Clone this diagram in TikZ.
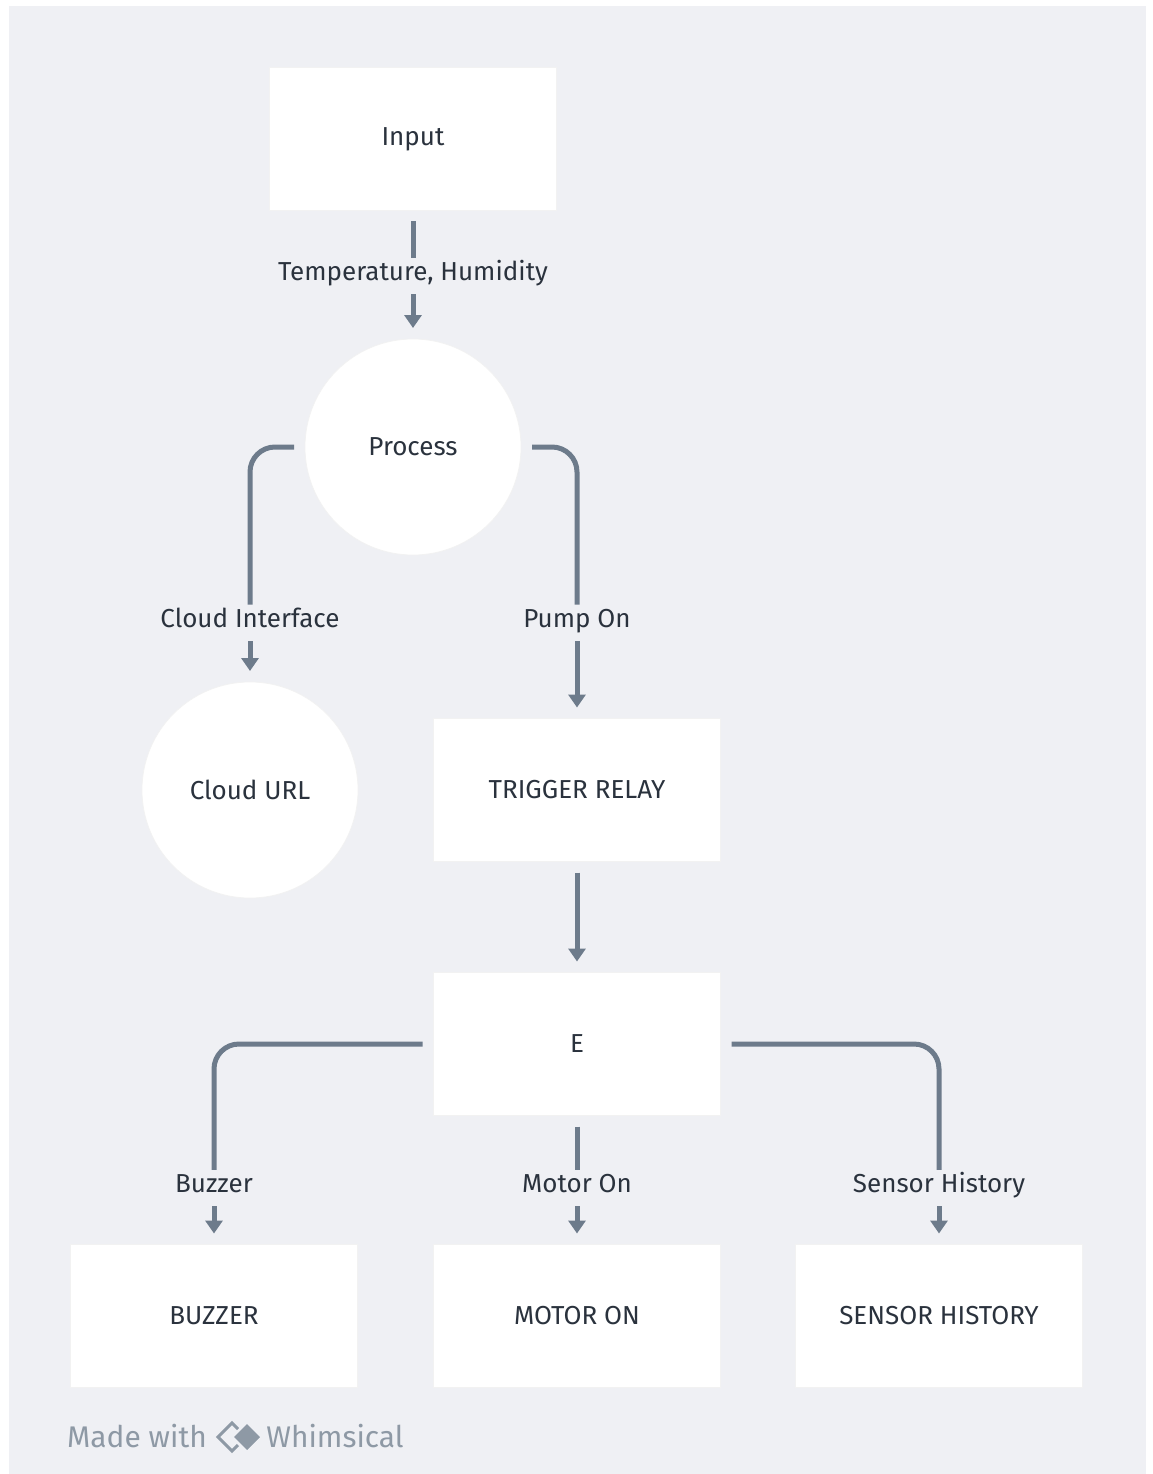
\documentclass[tikz,border=0pt]{standalone}
\usepackage{fontspec}
\setmainfont{Fira Sans}
\usepackage{xcolor}
\usetikzlibrary{arrows.meta}
\definecolor{paper}{HTML}{EFF0F4}
\definecolor{wire}{HTML}{6D7B8B}
\definecolor{ink}{HTML}{2A323D}
\definecolor{brand}{HTML}{8E99A5}

\begin{document}
\begin{tikzpicture}[
            font=\fontsize{14.8}{18}\selectfont,
            box/.style = {rectangle,
                        minimum width = 5.74cm,
                        minimum height = 2.86cm,
                        fill=white, draw=black!5,
                        text=ink, outer sep=0.22cm},
            bubble/.style = {circle,
                        minimum size = 4.32cm,
                        fill=white, draw=black!5,
                        text=ink, outer sep=0.22cm},
            tag/.style = {text=ink, inner sep=0pt, outer sep=0.2cm,
                        text height=0.72em, text depth=0.22em},
            wire/.style = {draw=wire, line width=0.1cm, rounded corners=0.5cm},
            arrowed/.style = {-{Triangle[width=0.34cm,length=0.26cm]}}]
            % Frame
            \useasboundingbox (0,0) rectangle (23.04,-29.48);
            \fill[white] (0,0) rectangle (23.04,-29.48);
            \fill[paper] (0.18,-0.12) rectangle (22.92,-29.48);
            % Nodes
            \node[box] (input) at (8.26,-2.78) {Input};
            \node[bubble] (process) at (8.26,-8.94) {Process};
            \node[bubble] (cloud) at (5.0,-15.8) {Cloud URL};
            \node[box] (relay) at (11.54,-15.8) {TRIGGER RELAY};
            \node[box] (e) at (11.54,-20.88) {E};
            \node[box] (buzzer) at (4.28,-26.32) {BUZZER};
            \node[box] (motor) at (11.54,-26.32) {MOTOR ON};
            \node[box] (history) at (18.78,-26.32) {SENSOR HISTORY};
            % Connector labels
            \node[tag] (tempHum) at (8.26,-5.52) {Temperature, Humidity};
            \node[tag] (cloudIf) at (5.0,-12.46) {Cloud Interface};
            \node[tag] (pumpOn) at (11.54,-12.46) {Pump On};
            \node[tag] (buzz) at (4.28,-23.76) {Buzzer};
            \node[tag] (motorOn) at (11.54,-23.76) {Motor On};
            \node[tag] (sensHist) at (18.78,-23.76) {Sensor History};
            % Connectors
            \draw[wire] (input) -- (tempHum);
            \draw[wire,arrowed] (tempHum) -- (process);
            \draw[wire] (process.west) -| (cloudIf);
            \draw[wire,arrowed] (cloudIf) -- (cloud);
            \draw[wire] (process.east) -| (pumpOn);
            \draw[wire,arrowed] (pumpOn) -- (relay);
            \draw[wire,arrowed] (relay) -- (e);
            \draw[wire] (e.west) -| (buzz);
            \draw[wire,arrowed] (buzz) -- (buzzer);
            \draw[wire] (e) -- (motorOn);
            \draw[wire,arrowed] (motorOn) -- (motor);
            \draw[wire] (e.east) -| (sensHist);
            \draw[wire,arrowed] (sensHist) -- (history);
            % Footer
            \node[text=brand,font=\fontsize{17}{20}\selectfont] (made) at (2.74,-28.72) {Made with};
            \node[text=brand,font=\fontsize{17}{20}\selectfont] (whim) at (6.7,-28.72) {Whimsical};
            \draw[brand,line width=0.06cm] (4.92,-28.74) -- ++(-0.28,0.28) -- ++(-0.28,-0.28) -- ++(0.28,-0.28) -- cycle;
            \filldraw[fill=brand,draw=paper,line width=0.05cm] (4.64,-28.74) -- ++(0.3,0.3) -- ++(0.3,-0.3) -- ++(-0.3,-0.3) -- cycle;
        \end{tikzpicture}
\end{document}
